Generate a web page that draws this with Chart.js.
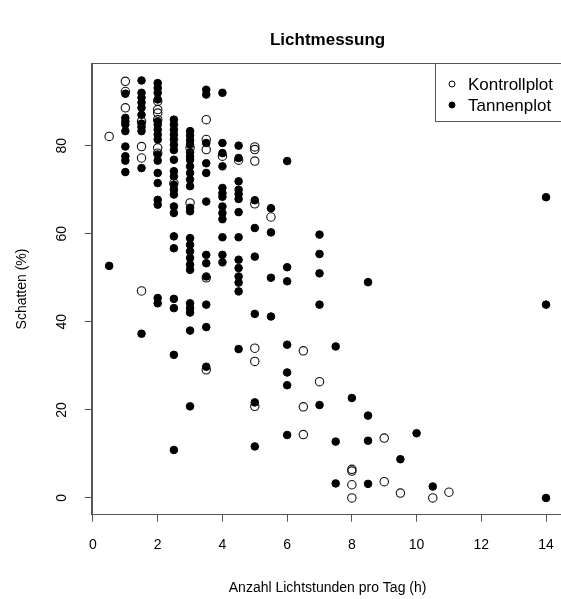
<!DOCTYPE html>
<html>
<head>
<meta charset="utf-8">
<script src="https://cdn.jsdelivr.net/npm/chart.js@4.4.1/dist/chart.umd.min.js"></script>
<style>
  html, body { margin: 0; padding: 0; background: #fff; overflow: hidden; }
</style>
</head>
<body>
<canvas id="lichtChart" width="600" height="599"></canvas>
<script>
// Lichtstunden (x) und Schatten (y)
var kontrollX = [0.5, 1, 1, 1, 1.5, 1.5, 1.5, 1.5, 2, 2, 2, 2, 2, 2, 2.5, 3, 3,
    3.5, 3.5, 3.5, 3.5, 3.5, 4, 4.5, 5, 5, 5, 5, 5, 5, 5, 5.5, 6.5, 6.5, 6.5, 7,
    8, 8, 8, 8, 9, 9, 9.5, 10.5, 11];
var kontrollY = [82.1, 94.6, 92.3, 88.6, 85.5, 79.8, 77.2, 47.0, 90.1, 88.2, 87.4, 85.9, 79.5, 78.3, 71.5, 79.5, 67.0,
    85.9, 81.4, 79.1, 50.0, 29.1, 77.6, 76.7, 79.7, 79.1, 76.5, 66.8, 34.0, 31.0, 20.8, 63.8, 33.4, 20.7, 14.4, 26.4,
    6.5, 6.1, 3.0, 0, 13.6, 3.7, 1.1, 0, 1.3];

var tannenX = [0.5,
    1, 1, 1, 1, 1, 1, 1, 1, 1,
    1.5, 1.5, 1.5, 1.5, 1.5, 1.5, 1.5, 1.5, 1.5, 1.5, 1.5,
    2, 2, 2, 2, 2, 2, 2, 2, 2, 2, 2, 2, 2, 2, 2, 2, 2,
    2.5, 2.5, 2.5, 2.5, 2.5, 2.5, 2.5, 2.5, 2.5, 2.5, 2.5, 2.5, 2.5, 2.5, 2.5, 2.5, 2.5, 2.5, 2.5, 2.5, 2.5,
    3, 3, 3, 3, 3, 3, 3, 3, 3, 3, 3, 3, 3, 3, 3, 3, 3, 3, 3, 3, 3, 3, 3, 3,
    3.5, 3.5, 3.5, 3.5, 3.5, 3.5, 3.5, 3.5, 3.5, 3.5, 3.5, 3.5,
    4, 4, 4, 4, 4, 4, 4, 4, 4, 4, 4, 4, 4,
    4.5, 4.5, 4.5, 4.5, 4.5, 4.5, 4.5, 4.5, 4.5, 4.5, 4.5, 4.5, 4.5, 4.5,
    5, 5, 5, 5, 5, 5,
    5.5, 5.5, 5.5, 5.5,
    6, 6, 6, 6, 6, 6, 6,
    7, 7, 7, 7, 7,
    7.5, 7.5, 7.5,
    8,
    8.5, 8.5, 8.5, 8.5,
    9.5, 10, 10.5,
    14, 14, 14];
var tannenY = [52.7,
    91.8, 86.3, 85.5, 84.8, 83.3, 79.8, 77.6, 76.6, 74.0,
    94.8, 92.0, 90.9, 89.8, 88.6, 87.0, 85.0, 84.2, 83.3, 74.9, 37.3,
    94.2, 93.1, 92.0, 90.5, 85.5, 84.8, 83.6, 82.5, 81.4, 78.0, 76.6, 73.8, 71.5, 67.7, 66.6, 45.4, 44.2,
    85.9, 84.8, 83.6, 82.5, 81.4, 80.2, 79.0, 76.8, 74.2, 73.0, 71.1, 70.0, 68.9, 66.2, 64.7, 59.4, 56.7, 45.2, 43.1, 32.5, 10.9,
    83.3, 82.3, 81.2, 80.2, 78.5, 77.5, 76.8, 75.3, 73.8, 72.3, 70.8, 65.9, 65.1, 59.0, 57.5, 56.0, 54.5, 53.0, 51.8, 44.2, 43.1, 42.1, 38.0, 20.8,
    92.7, 91.6, 80.6, 76.0, 73.8, 67.3, 55.2, 53.3, 50.3, 43.9, 38.8, 29.8,
    92.0, 80.6, 78.3, 75.3, 70.4, 69.2, 68.4, 66.2, 64.7, 63.3, 59.2, 55.2, 53.5,
    80.0, 77.2, 71.9, 70.0, 69.0, 67.9, 64.9, 59.2, 54.1, 52.2, 50.3, 48.9, 46.9, 33.8,
    67.6, 61.3, 54.8, 41.8, 21.7, 11.7,
    65.8, 60.3, 50.0, 41.2,
    76.5, 52.4, 49.2, 34.8, 28.5, 25.6, 14.3,
    59.8, 55.4, 51.0, 43.9, 21.1,
    34.4, 12.8, 3.3,
    22.7,
    49.0, 18.7, 13.0, 3.2,
    8.8, 14.7, 2.6,
    68.3, 43.9, 0];

var xTicks = [0, 2, 4, 6, 8, 10, 12, 14];
var yTicks = [0, 20, 40, 60, 80];
var seriesNames = ["Kontrollplot", "Tannenplot"];

const fontFamily = "'Liberation Sans', Arial, sans-serif";
const axisColor = "#555";

function toPoints(xs, ys) {
    return xs.map(function(x, i) { return {x: x, y: ys[i]}; });
}

// Titel, Rahmen, senkrechte y-Beschriftung und Legende wie im R-Plot
const rPlotExtras = {
    id: "rPlotExtras",
    afterDraw(chart) {
        const ctx = chart.ctx;
        const a = chart.chartArea;
        const yScale = chart.scales.y;
        ctx.save();

        // box around the plot
        ctx.strokeStyle = axisColor;
        ctx.lineWidth = 1;
        ctx.strokeRect(Math.round(a.left) + 0.5, Math.round(a.top) + 0.5,
            Math.round(a.right - a.left), Math.round(a.bottom - a.top));

        // main title
        ctx.fillStyle = "#000";
        ctx.font = "bold 17px " + fontFamily;
        ctx.textAlign = "center";
        ctx.textBaseline = "middle";
        ctx.fillText("Lichtmessung", (a.left + a.right) / 2, 40);

        // y tick labels, rotated like las=0
        ctx.font = "14px " + fontFamily;
        yScale.ticks.forEach(function(t) {
            const py = yScale.getPixelForValue(t.value);
            ctx.save();
            ctx.translate(62, py);
            ctx.rotate(-Math.PI / 2);
            ctx.fillText(String(t.value), 0, 0);
            ctx.restore();
        });

        // legend top right
        const lx = 435.5, ly = Math.round(a.top) + 0.5;
        ctx.fillStyle = "#fff";
        ctx.fillRect(lx, ly, a.right - lx, 58);
        ctx.strokeStyle = axisColor;
        ctx.strokeRect(lx, ly, a.right - lx, 58);

        ctx.font = "17px " + fontFamily;
        ctx.textAlign = "left";
        ctx.textBaseline = "alphabetic";
        chart.data.datasets.forEach(function(ds, i) {
            const cy = 84 + i * 21;
            ctx.beginPath();
            ctx.arc(452, cy, 3, 0, Math.PI * 2);
            ctx.lineWidth = 1;
            ctx.strokeStyle = "#000";
            if (ds.pointBackgroundColor !== "rgba(0,0,0,0)") {
                ctx.fillStyle = "#000";
                ctx.fill();
            }
            ctx.stroke();
            ctx.fillStyle = "#000";
            ctx.fillText(ds.label, 468, cy + 6);
        });

        ctx.restore();
    }
};

new Chart(document.getElementById("lichtChart"), {
    type: "scatter",
    data: {
        datasets: [
            {
                label: seriesNames[0],
                data: toPoints(kontrollX, kontrollY),
                pointRadius: 4.2,
                pointBackgroundColor: "rgba(0,0,0,0)",
                pointBorderColor: "#111",
                pointBorderWidth: 1.1
            },
            {
                label: seriesNames[1],
                data: toPoints(tannenX, tannenY),
                pointRadius: 3.8,
                pointBackgroundColor: "#000",
                pointBorderColor: "#000",
                pointBorderWidth: 1
            }
        ]
    },
    options: {
        responsive: false,
        animation: false,
        events: [],
        layout: {
            padding: {top: 63.3, right: 36.5, left: 0, bottom: 0}
        },
        plugins: {
            legend: {display: false},
            title: {display: false},
            tooltip: {enabled: false}
        },
        scales: {
            x: {
                type: "linear",
                min: -0.04,
                max: 14.54,
                afterBuildTicks: function(scale) {
                    scale.ticks = xTicks.map(function(v) { return {value: v}; });
                },
                afterFit: function(scale) { scale.height = 84.3; },
                grid: {drawOnChartArea: false, drawTicks: true, tickLength: 7, color: axisColor},
                border: {display: true, color: axisColor},
                ticks: {
                    color: "#000",
                    padding: 15,
                    font: {family: fontFamily, size: 14}
                },
                title: {
                    display: true,
                    text: "Anzahl Lichtstunden pro Tag (h)",
                    color: "#000",
                    font: {family: fontFamily, size: 14},
                    padding: {top: 0, bottom: 2.6}
                }
            },
            y: {
                type: "linear",
                min: -3.8,
                max: 98.7,
                afterBuildTicks: function(scale) {
                    scale.ticks = yTicks.map(function(v) { return {value: v}; });
                },
                afterFit: function(scale) { scale.width = 91.7; },
                grid: {drawOnChartArea: false, drawTicks: true, tickLength: 7, color: axisColor},
                border: {display: true, color: axisColor},
                ticks: {display: false},
                title: {
                    display: true,
                    text: "Schatten (%)",
                    color: "#000",
                    font: {family: fontFamily, size: 14},
                    padding: {top: 13.6, bottom: 0}
                }
            }
        }
    },
    plugins: [rPlotExtras]
});
</script>
</body>
</html>
